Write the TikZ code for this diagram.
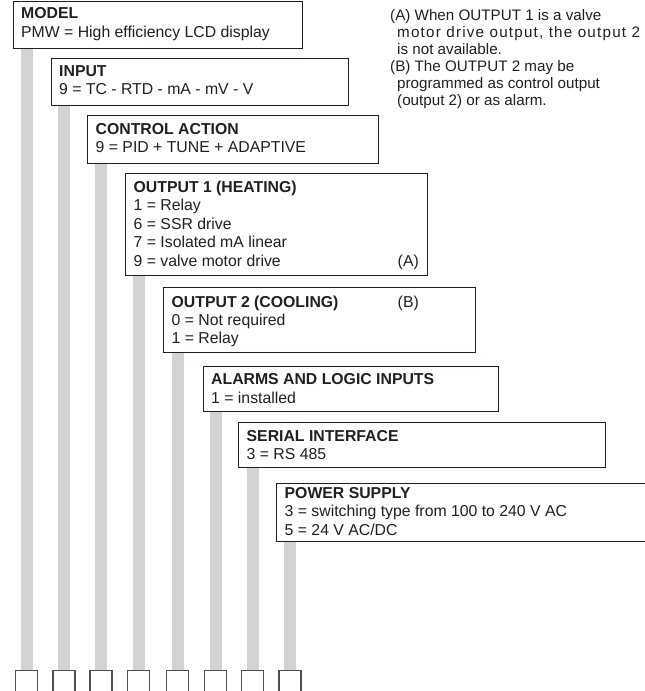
\documentclass[tikz,border=0pt]{standalone}
\usepackage{fontspec}
\setmainfont{Liberation Sans}
\definecolor{barcol}{RGB}{209,211,212}
\definecolor{linecol}{RGB}{35,31,32}
\definecolor{sqcol}{RGB}{80,80,80}
\newcommand\boxfont{\fontsize{15.8}{18.5}\selectfont}
\newcommand\notefont{\fontsize{15.2}{17}\selectfont}
\newcommand\txtline[4]{\node[txt] (#1) at (#2,#3) {#4};}
\newcommand\txtright[4]{\node[txtr] (#1) at (#2,#3) {#4};}
\newcommand\noteline[4]{\node[notetxt] (#1) at (#2,#3) {#4};}
\tikzset{
  boxstyle/.style={draw=linecol, line width=1.1pt, fill=white, rectangle, inner sep=0pt, anchor=north west},
  txt/.style={anchor=base west, inner sep=0pt, font=\boxfont, text=linecol},
  txtr/.style={anchor=base east, inner sep=0pt, font=\boxfont, text=linecol},
  notetxt/.style={anchor=base west, inner sep=0pt, font=\notefont, text=linecol},
  sqstyle/.style={draw=sqcol, line width=1.1pt, rectangle, inner sep=0pt, minimum width=22pt, minimum height=40pt, anchor=north},
  barstyle/.style={draw=barcol, line width=12pt, line cap=butt}
}
\begin{document}
\begin{tikzpicture}[x=1pt,y=-1pt]
\useasboundingbox (0,0) rectangle (645,691);
% boxes
\node[boxstyle, minimum width=289pt, minimum height=47pt] (model) at (13,1) {};
\node[boxstyle, minimum width=297pt, minimum height=47pt] (input) at (51,58) {};
\node[boxstyle, minimum width=291pt, minimum height=48pt] (control) at (87,115) {};
\node[boxstyle, minimum width=302pt, minimum height=102pt] (out1) at (125,173) {};
\node[boxstyle, minimum width=312pt, minimum height=65pt] (out2) at (163,287) {};
\node[boxstyle, minimum width=295pt, minimum height=45pt] (alarms) at (203,366) {};
\node[boxstyle, minimum width=367pt, minimum height=45pt] (serial) at (238,422) {};
\node[boxstyle, minimum width=390pt, minimum height=58pt] (power) at (276,483) {};
% bottom squares
\node[sqstyle] (sq1) at (26.5,670) {};
\node[sqstyle] (sq2) at (64,670) {};
\node[sqstyle] (sq3) at (101,670) {};
\node[sqstyle] (sq4) at (138.5,670) {};
\node[sqstyle] (sq5) at (177.5,670) {};
\node[sqstyle] (sq6) at (215.5,670) {};
\node[sqstyle] (sq7) at (252.5,670) {};
\node[sqstyle] (sq8) at (290,670) {};
% grey bars
\draw[barstyle] (sq1.north |- model.south) -- (sq1.north);
\draw[barstyle] (sq2.north |- input.south) -- (sq2.north);
\draw[barstyle] (sq3.north |- control.south) -- (sq3.north);
\draw[barstyle] (sq4.north |- out1.south) -- (sq4.north);
\draw[barstyle] (sq5.north |- out2.south) -- (sq5.north);
\draw[barstyle] (sq6.north |- alarms.south) -- (sq6.north);
\draw[barstyle] (sq7.north |- serial.south) -- (sq7.north);
\draw[barstyle] (sq8.north |- power.south) -- (sq8.north);
% texts
\txtline{modelT}{21}{18.3}{\textbf{MODEL}}
\txtline{modelA}{21}{37}{PMW = High efficiency LCD display}
\txtline{inputT}{59}{76}{\textbf{INPUT}}
\txtline{inputA}{59}{94.5}{9 = TC - RTD - mA - mV - V}
\txtline{controlT}{95.5}{134.5}{\textbf{CONTROL ACTION}}
\txtline{controlA}{95.5}{152.5}{9 = PID + TUNE + ADAPTIVE}
\txtline{out1T}{133.5}{192}{\textbf{OUTPUT 1 (HEATING)}}
\txtline{out1A}{133.5}{210.5}{1 = Relay}
\txtline{out1B}{133.5}{229}{6 = SSR drive}
\txtline{out1C}{133.5}{247.5}{7 = Isolated mA linear}
\txtline{out1D}{133.5}{266}{9 = valve motor drive}
\txtright{out1N}{419}{266}{(A)}
\txtline{out2T}{171.5}{307}{\textbf{OUTPUT 2 (COOLING)}}
\txtline{out2A}{171.5}{325.3}{0 = Not required}
\txtline{out2B}{171.5}{343.6}{1 = Relay}
\txtright{out2N}{419}{307}{(B)}
\txtline{alarmsT}{211}{384.5}{\textbf{ALARMS AND LOGIC INPUTS}}
\txtline{alarmsA}{211}{403}{1 = installed}
\txtline{serialT}{246.5}{441}{\textbf{SERIAL INTERFACE}}
\txtline{serialA}{246.5}{459.5}{3 = RS 485}
\txtline{powerT}{284.5}{498}{\textbf{POWER SUPPLY}}
\txtline{powerA}{284.5}{516.5}{3 = switching type from 100 to 240 V AC}
\txtline{powerB}{284.5}{535}{5 = 24 V AC/DC}
% notes
\noteline{noteA1}{390}{20.7}{(A) When OUTPUT 1 is a valve}
\noteline{noteA2}{397}{37.6}{\addfontfeatures{LetterSpace=8}motor drive output, the output 2}
\noteline{noteA3}{397}{54.5}{is not available.}
\noteline{noteB1}{390}{71.4}{(B) The OUTPUT 2 may be}
\noteline{noteB2}{397}{88.3}{programmed as control output}
\noteline{noteB3}{397}{105.2}{(output 2) or as alarm.}
\end{tikzpicture}
\end{document}
